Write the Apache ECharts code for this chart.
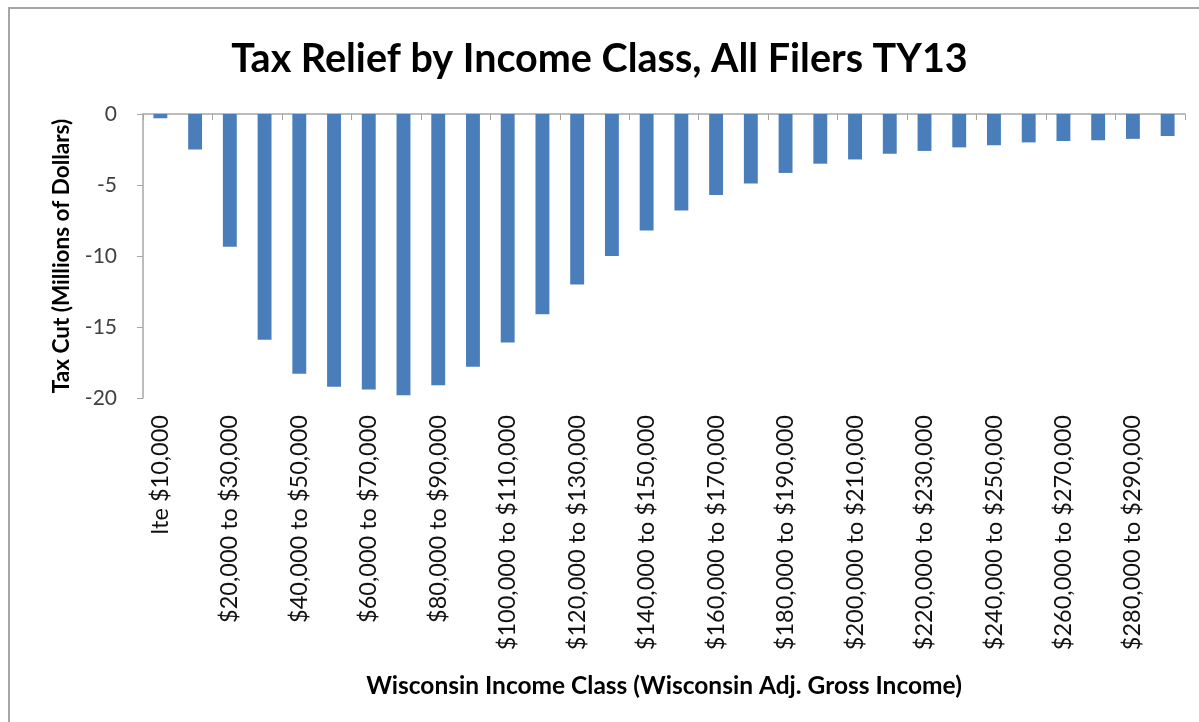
<!DOCTYPE html>
<html>
<head>
<meta charset="utf-8">
<script src="https://cdn.jsdelivr.net/npm/echarts@6/dist/echarts.min.js"></script>
<style>
html,body{margin:0;padding:0;background:#fff;}
#chart{width:1199px;height:722px;}
</style>
</head>
<body>
<div id="chart"></div>
<script>
const categories = [
  'lte $10,000', '$10,000 to $20,000', '$20,000 to $30,000', '$30,000 to $40,000',
  '$40,000 to $50,000', '$50,000 to $60,000', '$60,000 to $70,000', '$70,000 to $80,000',
  '$80,000 to $90,000', '$90,000 to $100,000', '$100,000 to $110,000', '$110,000 to $120,000',
  '$120,000 to $130,000', '$130,000 to $140,000', '$140,000 to $150,000', '$150,000 to $160,000',
  '$160,000 to $170,000', '$170,000 to $180,000', '$180,000 to $190,000', '$190,000 to $200,000',
  '$200,000 to $210,000', '$210,000 to $220,000', '$220,000 to $230,000', '$230,000 to $240,000',
  '$240,000 to $250,000', '$250,000 to $260,000', '$260,000 to $270,000', '$270,000 to $280,000',
  '$280,000 to $290,000', '$290,000 to $300,000'
];
const taxCut = [
  -0.3, -2.5, -9.35, -15.9, -18.3, -19.2, -19.4, -19.8, -19.1, -17.8,
  -16.1, -14.1, -12.0, -10.0, -8.2, -6.8, -5.7, -4.9, -4.15, -3.5,
  -3.2, -2.8, -2.6, -2.35, -2.2, -2.0, -1.9, -1.85, -1.75, -1.55
];
const yMin = -20, yMax = 0, yStep = 5;

const FONT = 'Lato, "Open Sans", sans-serif';
const chart = echarts.init(document.getElementById('chart'));
chart.setOption({
  animation: false,
  backgroundColor: '#ffffff',
  title: {
    text: 'Tax Relief by Income Class, All Filers TY13',
    left: 'center',
    top: 34,
    textStyle: { fontFamily: FONT, fontSize: 39.5, fontWeight: 'bold', color: '#000' }
  },
  graphic: [{
    type: 'rect',
    shape: { x: 9, y: 8, width: 1200, height: 720 },
    style: { fill: 'none', stroke: '#a6a6a6', lineWidth: 2 },
    silent: true
  }],
  grid: { left: 143, right: 14, top: 114, bottom: 324 },
  xAxis: [{
    type: 'category',
    data: categories,
    position: 'bottom',
    axisLine: { show: false },
    axisTick: { show: false },
    axisLabel: {
      interval: 1, rotate: 90, margin: 17,
      fontFamily: FONT, fontSize: 23.5, color: '#111'
    },
    name: 'Wisconsin Income Class (Wisconsin Adj. Gross Income)',
    nameLocation: 'middle',
    nameGap: 276,
    nameTextStyle: { fontFamily: FONT, fontSize: 24.5, fontWeight: 'bold', color: '#000' }
  }, {
    type: 'category',
    data: categories,
    position: 'top',
    axisLine: { show: true, lineStyle: { color: '#a6a6a6', width: 1.5 } },
    axisTick: { show: true, inside: true, interval: 1, length: 6, lineStyle: { color: '#a6a6a6' } },
    axisLabel: { show: false }
  }],
  yAxis: {
    type: 'value',
    min: yMin, max: yMax, interval: yStep,
    axisLine: { show: true, lineStyle: { color: '#a6a6a6', width: 1.5 } },
    axisTick: { show: true, length: 6, lineStyle: { color: '#a6a6a6' } },
    splitLine: { show: false },
    axisLabel: { margin: 26, fontFamily: FONT, fontSize: 21, color: '#404040' },
    name: 'Tax Cut (Millions of Dollars)',
    nameLocation: 'middle',
    nameGap: 70,
    nameTextStyle: { fontFamily: FONT, fontSize: 22.5, fontWeight: 'bold', color: '#000' }
  },
  series: [{
    type: 'bar',
    data: taxCut,
    xAxisIndex: 0,
    barWidth: '40%',
    itemStyle: { color: '#4a7ebb' }
  }]
});
</script>
</body>
</html>
